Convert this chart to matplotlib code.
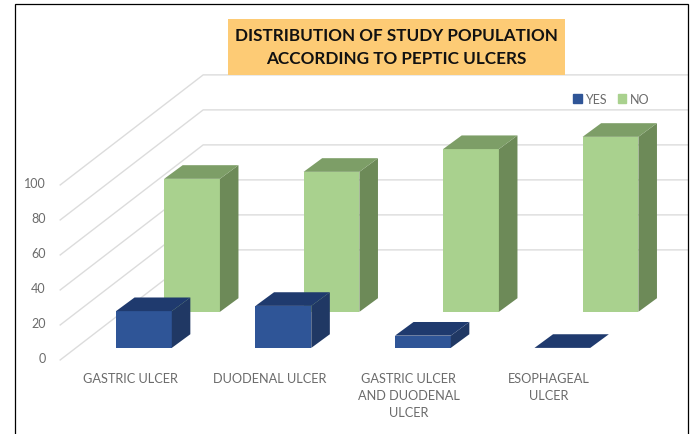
import matplotlib
matplotlib.use('Agg')
import matplotlib.pyplot as plt
from matplotlib.patches import Patch, Rectangle

plt.rcParams['font.family'] = ['Lato', 'DejaVu Sans']

categories = ['GASTRIC ULCER', 'DUODENAL ULCER', 'GASTRIC ULCER\nAND DUODENAL\nULCER', 'ESOPHAGEAL\nULCER']
yes_values = [21, 24, 7, 0]
no_values = [76, 80, 93, 100]
y_ticks = [0, 20, 40, 60, 80, 100]
title = 'DISTRIBUTION OF STUDY POPULATION\nACCORDING TO PEPTIC ULCERS'

# the "3D" look is just a shear: x in category units, y in value units
BAR_W = 0.40
DEPTH_X, DEPTH_Y = 0.133, 7.8      # thickness of a bar
ROW_X, ROW_Y = 0.345, 20.6         # how far the NO row sits behind the YES row
WALL_X0, WALL_X1, WALL_X2 = -0.40, 0.625, 4.1
WALL_Y0, WALL_Y1 = -6.9, 56.0


def draw_bar(ax, x, base, value, front, side, top, zorder):
    h = base + value
    ax.fill([x, x + BAR_W, x + BAR_W, x], [base, base, h, h], color=front, lw=0, zorder=zorder)
    ax.fill([x + BAR_W, x + BAR_W + DEPTH_X, x + BAR_W + DEPTH_X, x + BAR_W],
            [base, base + DEPTH_Y, h + DEPTH_Y, h], color=side, lw=0, zorder=zorder)
    ax.fill([x, x + BAR_W, x + BAR_W + DEPTH_X, x + DEPTH_X],
            [h, h, h + DEPTH_Y, h + DEPTH_Y], color=top, lw=0, zorder=zorder)


fig = plt.figure(figsize=(6.91, 4.35), dpi=100)
ax = fig.add_axes([0, 0, 1, 1])
ax.set_xlim(-0.8315, 4.122)
ax.set_ylim(-49.2, 199.36)
ax.axis('off')

# grid on the side wall and the back wall
for t in y_ticks:
    ax.plot([WALL_X0, WALL_X1, WALL_X2], [WALL_Y0 + t, WALL_Y1 + t, WALL_Y1 + t],
            color='#dcdcdc', lw=1.0, zorder=1)
    ax.text(-0.505, t - 5.7, str(t), ha='right', va='center', fontsize=9, color='#6b6b6b')

for i, (cat, yes, no) in enumerate(zip(categories, yes_values, no_values)):
    draw_bar(ax, i + ROW_X, ROW_Y, no, '#a9d18e', '#6d8a58', '#7d9e67', 3)
    draw_bar(ax, i, 0, yes, '#2f5597', '#203864', '#1f3a6e', 4)
    ax.text(i + 0.1, -13.7, cat, ha='center', va='top', fontsize=9.2, color='#6b6b6b', linespacing=1.5)

handles = [Patch(color='#2f5597', label='YES'), Patch(color='#a9d18e', label='NO')]
ax.legend(handles=handles, ncol=2, frameon=False, fontsize=9, labelcolor='#6b6b6b',
          loc='center', bbox_to_anchor=(0.885, 0.77), handlelength=0.65, handleheight=0.8,
          handletextpad=0.3, columnspacing=0.9)

ax.add_patch(Rectangle((228 / 691, 1 - 76 / 435), 337 / 691, 56 / 435, transform=ax.transAxes,
                       facecolor='#fdcb75', edgecolor='none', zorder=5))
ax.text(0.5735, 0.891, title, transform=ax.transAxes, ha='center', va='center', fontsize=12.3,
        fontweight='bold', color='#111111', linespacing=1.6, zorder=6)

# black frame around the chart, bottom edge runs off the image
ax.add_patch(Rectangle((14.5 / 691, -0.02), 673.5 / 691, 1.02 - 5 / 435, transform=ax.transAxes,
                       fill=False, edgecolor='black', lw=0.9, zorder=7))

fig.savefig('out.png', dpi=100)
